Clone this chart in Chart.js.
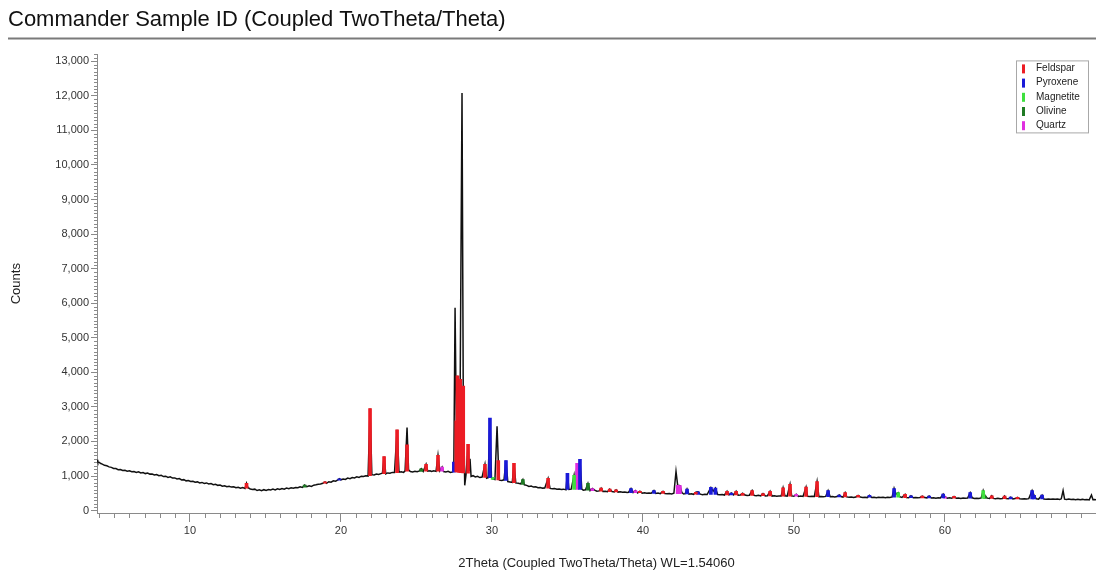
<!DOCTYPE html>
<html>
<head>
<meta charset="utf-8">
<script src="https://cdn.jsdelivr.net/npm/chart.js@4.4.1/dist/chart.umd.min.js"></script>
<style>
  html, body { margin: 0; padding: 0; background: #fff; }
  #wrap { width: 1096px; height: 572px; }
</style>
</head>
<body>
<div id="wrap"><canvas id="xrdChart" width="1096" height="572"></canvas></div>
<script>
// measured pattern: [2theta, counts]
const pattern = [
  [3.85,1470],[3.9,1410],[4.0,1395],[4.1,1360],[4.2,1345],[4.35,1310],[4.5,1295],[4.65,1265],[4.8,1250],[4.95,1220],
  [5.1,1215],[5.25,1185],[5.4,1190],[5.55,1160],[5.7,1165],[5.85,1140],[6.0,1150],[6.15,1125],[6.3,1130],[6.45,1105],
  [6.6,1120],[6.75,1090],[6.9,1100],[7.05,1070],[7.2,1085],[7.35,1055],[7.5,1060],[7.65,1030],[7.8,1045],[7.95,1010],
  [8.1,1020],[8.25,985],[8.4,995],[8.55,960],[8.7,975],[8.85,940],[9.0,945],[9.15,915],[9.3,925],[9.45,885],
  [9.6,895],[9.75,860],[9.9,870],[10.05,840],[10.2,850],[10.35,820],[10.5,830],[10.65,800],[10.8,815],[10.95,785],
  [11.1,800],[11.25,770],[11.4,780],[11.55,750],[11.7,760],[11.85,730],[12.0,740],[12.15,705],[12.3,720],[12.45,690],
  [12.6,705],[12.75,680],[12.9,690],[13.05,660],[13.2,675],[13.35,650],[13.5,665],[13.65,640],[13.75,790],[13.85,660],
  [14.0,625],[14.15,610],[14.3,620],[14.45,580],[14.6,600],[14.75,575],[14.9,605],[15.05,585],[15.2,610],[15.35,595],
  [15.5,620],[15.65,600],[15.8,630],[15.95,610],[16.1,640],[16.25,620],[16.4,650],[16.55,635],[16.7,660],[16.85,645],
  [17.0,670],[17.15,660],[17.3,690],[17.45,670],[17.6,740],[17.75,690],[17.9,715],[18.05,700],[18.2,735],[18.35,745],
  [18.5,760],[18.65,770],[18.8,790],[18.95,830],[19.05,790],[19.2,835],[19.35,820],[19.5,860],[19.65,850],[19.8,885],
  [19.9,920],[20.0,890],[20.15,915],[20.3,900],[20.45,940],[20.6,925],[20.75,955],[20.9,945],[21.05,975],[21.2,960],
  [21.35,995],[21.5,985],[21.65,1010],[21.8,1000],[21.93,2950],[22.05,1040],[22.2,1030],[22.35,1055],[22.5,1045],[22.65,1070],
  [22.75,1080],[22.86,1560],[22.97,1065],[23.1,1090],[23.25,1080],[23.4,1105],[23.55,1100],[23.72,2340],[23.85,1110],[24.0,1120],
  [24.15,1105],[24.25,1150],[24.38,2400],[24.48,1180],[24.6,1130],[24.75,1120],[24.9,1140],[25.05,1125],[25.2,1150],[25.32,1210],
  [25.45,1130],[25.64,1340],[25.75,1140],[25.9,1150],[26.0,1130],[26.15,1150],[26.3,1135],[26.43,1600],[26.55,1150],[26.7,1260],
  [26.8,1130],[26.95,1120],[27.1,1135],[27.25,1105],[27.4,1120],[27.48,1400],[27.56,5870],[27.64,2600],[27.72,3900],[27.8,3200],
  [27.9,3800],[28.02,12080],[28.1,3600],[28.2,730],[28.3,1100],[28.42,1920],[28.5,1150],[28.55,1500],[28.62,990],[28.75,1010],
  [28.9,975],[29.05,990],[29.2,955],[29.35,970],[29.54,1340],[29.65,935],[29.75,950],[29.87,2680],[29.97,960],[30.05,920],
  [30.2,900],[30.34,2440],[30.42,1450],[30.5,880],[30.65,870],[30.8,890],[30.93,1450],[31.05,840],[31.2,830],[31.35,815],
  [31.46,1370],[31.58,800],[31.75,790],[31.9,770],[32.05,900],[32.15,745],[32.3,730],[32.45,700],[32.6,710],[32.75,680],
  [32.9,690],[33.05,660],[33.2,670],[33.35,650],[33.5,655],[33.72,930],[33.85,640],[34.0,630],[34.15,640],[34.3,620],
  [34.45,625],[34.6,610],[34.75,620],[34.9,600],[35.0,1080],[35.1,610],[35.25,620],[35.44,1020],[35.52,700],[35.64,1370],
  [35.72,900],[35.83,1480],[35.95,620],[36.05,590],[36.2,600],[36.36,790],[36.5,580],[36.65,640],[36.8,590],[36.95,560],
  [37.1,570],[37.23,650],[37.35,555],[37.5,560],[37.65,545],[37.8,620],[37.95,550],[38.1,540],[38.22,600],[38.35,535],
  [38.5,545],[38.65,530],[38.8,540],[38.95,525],[39.05,530],[39.21,640],[39.35,520],[39.5,580],[39.65,510],[39.8,560],
  [39.95,505],[40.1,515],[40.25,500],[40.4,510],[40.55,500],[40.73,580],[40.85,495],[41.0,505],[41.15,490],[41.33,560],
  [41.45,495],[41.6,485],[41.75,495],[41.9,480],[42.05,500],[42.19,1130],[42.3,730],[42.45,720],[42.58,520],[42.7,480],
  [42.8,490],[42.92,620],[43.05,475],[43.2,485],[43.35,470],[43.5,530],[43.65,540],[43.8,475],[43.95,460],[44.1,470],
  [44.25,465],[44.5,670],[44.65,560],[44.8,650],[44.95,465],[45.1,455],[45.25,465],[45.4,450],[45.57,560],[45.7,455],
  [45.85,510],[46.0,455],[46.17,560],[46.3,445],[46.45,450],[46.6,500],[46.75,450],[46.9,435],[47.05,445],[47.23,580],
  [47.35,440],[47.5,430],[47.65,440],[47.8,425],[47.95,490],[48.1,425],[48.25,430],[48.42,560],[48.55,420],[48.7,430],
  [48.85,415],[49.0,425],[49.15,420],[49.28,660],[49.4,430],[49.55,420],[49.74,760],[49.85,425],[50.0,415],[50.15,470],
  [50.3,410],[50.45,420],[50.6,410],[50.8,680],[50.9,415],[51.05,405],[51.2,415],[51.35,410],[51.53,840],[51.65,405],
  [51.8,410],[51.95,400],[52.1,410],[52.26,580],[52.4,400],[52.55,405],[52.7,395],[52.85,405],[53.0,450],[53.15,400],
  [53.25,390],[53.39,520],[53.5,395],[53.65,385],[53.8,395],[53.95,380],[54.1,390],[54.25,440],[54.4,390],[54.55,380],
  [54.7,388],[54.85,376],[55.0,440],[55.15,380],[55.3,386],[55.45,374],[55.6,388],[55.75,378],[55.9,384],[56.05,372],
  [56.2,386],[56.35,380],[56.5,395],[56.63,640],[56.75,470],[56.9,520],[57.0,400],[57.15,380],[57.36,470],[57.45,378],
  [57.6,370],[57.75,430],[57.9,372],[58.05,378],[58.2,368],[58.35,380],[58.5,420],[58.65,376],[58.8,368],[58.95,420],
  [59.1,362],[59.25,372],[59.4,360],[59.55,370],[59.7,365],[59.88,480],[60.0,400],[60.15,358],[60.3,368],[60.45,356],
  [60.6,410],[60.75,355],[60.9,365],[61.05,352],[61.2,362],[61.35,354],[61.5,360],[61.67,520],[61.8,370],[61.95,352],
  [62.1,360],[62.25,348],[62.4,365],[62.53,580],[62.65,420],[62.8,360],[62.95,350],[63.1,430],[63.2,352],[63.35,345],
  [63.5,355],[63.65,342],[63.8,350],[63.95,420],[64.05,348],[64.2,340],[64.35,390],[64.5,338],[64.65,348],[64.8,380],
  [64.95,345],[65.1,335],[65.25,344],[65.4,333],[65.55,345],[65.77,580],[65.9,440],[66.05,340],[66.2,332],[66.43,450],
  [66.55,335],[66.7,328],[66.85,338],[67.0,326],[67.15,336],[67.3,325],[67.45,334],[67.6,322],[67.7,340],[67.82,580],
  [67.92,330],[68.05,320],[68.2,332],[68.35,318],[68.5,328],[68.65,316],[68.8,326],[68.95,314],[69.1,324],[69.25,312],
  [69.4,322],[69.55,310],[69.7,450],[69.8,315],[69.9,320],[70.0,312]
];

// identified phase peaks: [2theta, from, to]
const feldsparPeaks = [
  [13.75,650,790],[18.95,790,830],[21.93,1010,2950],[22.86,1070,1560],[23.72,1100,2340],[24.38,1140,1900],
  [25.64,1140,1340],[26.43,1140,1600],[27.64,1120,2600],[27.72,1120,3900],[27.8,1110,3200],[27.9,1100,3800],
  [28.1,1090,3600],[28.42,1080,1920],[29.54,960,1340],[30.42,890,1450],[31.46,810,1370],[33.72,650,930],
  [37.23,560,650],[37.8,550,620],[38.22,540,600],[39.8,515,560],[41.33,495,560],[43.5,475,530],[45.57,455,560],
  [46.17,450,560],[46.6,440,500],[47.23,440,580],[47.95,428,490],[48.42,425,560],[49.28,420,660],[49.74,420,760],
  [50.8,410,680],[51.53,405,840],[53.39,395,520],[54.25,385,440],[57.36,375,470],[58.5,365,420],[60.6,360,410],
  [63.1,350,430],[63.95,345,420],[64.8,336,380]
];
const pyroxenePeaks = [
  [19.9,880,920],[27.48,1110,1400],[29.87,950,2680],[30.93,870,1450],[35.0,610,1080],[35.83,610,1480],
  [39.21,520,640],[40.73,500,580],[42.92,480,620],[43.65,470,540],[44.5,465,670],[44.8,465,650],[45.85,450,510],
  [52.26,405,580],[53.0,395,450],[55.0,385,440],[56.63,390,640],[57.75,372,430],[58.95,368,420],[59.88,365,480],
  [61.67,358,520],[64.35,340,390],[65.77,340,580],[65.9,340,440],[66.43,335,450]
];
const magnetitePeaks = [[30.05,900,960],[35.44,615,1020],[56.9,385,520],[62.53,355,580]];
const olivinePeaks = [[17.6,680,740],[25.32,1130,1210],[32.05,760,900],[36.36,590,790],[62.65,355,420]];
const quartzPeaks = [[26.7,1140,1260],[35.64,615,1370],[36.65,575,640],[39.5,520,580],[42.3,490,730],[42.45,490,720],[50.15,415,470],[60.0,362,400]];

const phaseNames = ['Feldspar', 'Pyroxene', 'Magnetite', 'Olivine', 'Quartz'];
const phaseColors = ['#ec1c24', '#1a1ad8', '#3ee03e', '#1f7a24', '#e02ee0'];
const phasePeaks = [feldsparPeaks, pyroxenePeaks, magnetitePeaks, olivinePeaks, quartzPeaks];

// labelled ticks
const xTickValues = [10, 20, 30, 40, 50, 60];
const yTickValues = [0, 1000, 2000, 3000, 4000, 5000, 6000, 7000, 8000, 9000, 10000, 11000, 12000, 13000];

const axisGrey = '#8a8a8a';
const fontFamily = "'Liberation Sans', Arial, Helvetica, sans-serif";

// small ticks between the labelled ones
const minorTicks = {
  id: 'minorTicks',
  afterDraw(chart) {
    const {ctx, scales: {x, y}} = chart;
    ctx.save();
    ctx.strokeStyle = axisGrey;
    ctx.lineWidth = 1;
    ctx.beginPath();
    for (let v = Math.ceil(x.min); v <= x.max; v++) {
      if (v % 10 === 0) continue;
      const px = Math.round(x.getPixelForValue(v)) + 0.5;
      ctx.moveTo(px, x.top);
      ctx.lineTo(px, x.top + 5);
    }
    for (let v = 0; v <= y.max; v += 100) {
      if (v % 1000 === 0) continue;
      const py = Math.round(y.getPixelForValue(v)) + 0.5;
      ctx.moveTo(y.right, py);
      ctx.lineTo(y.right - 3, py);
    }
    ctx.stroke();
    ctx.restore();
  }
};

// rule under the title
const titleRule = {
  id: 'titleRule',
  afterDraw(chart) {
    const {ctx} = chart;
    const yy = chart.titleBlock.bottom - 16;
    ctx.save();
    ctx.strokeStyle = '#7a7a7a';
    ctx.lineWidth = 2;
    ctx.beginPath();
    ctx.moveTo(8, yy);
    ctx.lineTo(chart.width, yy);
    ctx.stroke();
    ctx.restore();
  }
};

// boxed legend inside the plot, top right
const phaseLegend = {
  id: 'phaseLegend',
  afterDraw(chart) {
    const {ctx, chartArea} = chart;
    const left = chartArea.right - 80;
    const top = chartArea.top + 6;
    ctx.save();
    ctx.fillStyle = '#fff';
    ctx.fillRect(left, top, 72, 72);
    ctx.strokeStyle = '#a8a8a8';
    ctx.lineWidth = 1;
    ctx.strokeRect(left + 0.5, top + 0.5, 72, 72);
    ctx.font = '10px ' + fontFamily;
    ctx.textBaseline = 'middle';
    phaseNames.forEach((name, i) => {
      const yy = top + 8 + i * 14.2;
      ctx.fillStyle = phaseColors[i];
      ctx.fillRect(left + 6, yy - 4, 3, 9);
      ctx.fillStyle = '#222';
      ctx.fillText(name, left + 20, yy);
    });
    ctx.restore();
  }
};

const datasets = phasePeaks.map((peaks, i) => ({
  type: 'bar',
  label: phaseNames[i],
  data: peaks.map(p => ({x: p[0], y: [p[1], p[2]]})),
  backgroundColor: phaseColors[i],
  borderWidth: 0,
  barThickness: 3,
  grouped: false,
  order: i + 1
}));

datasets.push({
  type: 'line',
  label: 'Pattern',
  data: pattern.map(p => ({x: p[0], y: p[1]})),
  borderColor: '#111',
  borderWidth: 1.5,
  pointRadius: 0,
  tension: 0,
  fill: false,
  order: 10
});

Chart.defaults.font.family = fontFamily;
Chart.defaults.color = '#333';

new Chart(document.getElementById('xrdChart'), {
  type: 'line',
  data: {datasets},
  options: {
    responsive: false,
    animation: false,
    layout: {padding: {left: 8, top: 0, right: 0, bottom: 0}},
    plugins: {
      legend: {display: false},
      tooltip: {enabled: false},
      title: {
        display: true,
        text: 'Commander Sample ID (Coupled TwoTheta/Theta)',
        align: 'start',
        color: '#111',
        font: {size: 22, weight: 'normal'},
        padding: {top: 7, bottom: 21}
      }
    },
    scales: {
      x: {
        type: 'linear',
        min: 3.85,
        max: 70,
        offset: false,
        afterFit: s => { s.height = 59; },
        afterBuildTicks: s => { s.ticks = xTickValues.map(v => ({value: v})); },
        border: {display: true, color: axisGrey, width: 1},
        grid: {drawOnChartArea: false, offset: false, tickLength: 9, color: axisGrey},
        ticks: {padding: 2, font: {size: 11}, color: '#333', autoSkip: false, maxRotation: 0},
        title: {
          display: true,
          text: '2Theta (Coupled TwoTheta/Theta) WL=1.54060',
          color: '#222',
          font: {size: 13},
          padding: {top: 0, bottom: 1}
        }
      },
      y: {
        type: 'linear',
        min: -70,
        max: 13200,
        afterFit: s => { s.width = 89; },
        afterBuildTicks: s => { s.ticks = yTickValues.map(v => ({value: v})); },
        border: {display: true, color: axisGrey, width: 1},
        grid: {drawOnChartArea: false, offset: false, tickLength: 6, color: axisGrey},
        ticks: {
          padding: 2,
          font: {size: 11},
          color: '#333',
          autoSkip: false,
          callback: v => v.toLocaleString('en-US')
        },
        title: {
          display: true,
          text: 'Counts',
          color: '#222',
          font: {size: 13},
          padding: {top: 1, bottom: 0}
        }
      }
    }
  },
  plugins: [minorTicks, titleRule, phaseLegend]
});
</script>
</body>
</html>
